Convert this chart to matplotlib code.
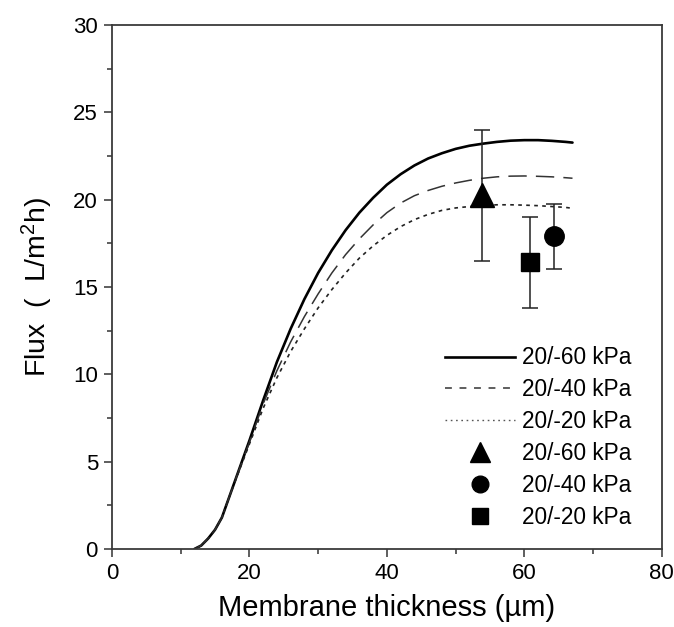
import matplotlib
matplotlib.use("Agg")
import matplotlib.pyplot as plt
from matplotlib.lines import Line2D

plt.rcParams['font.family'] = ['Liberation Sans', 'DejaVu Sans']
plt.rcParams['mathtext.fontset'] = 'custom'
plt.rcParams['mathtext.rm'] = 'Liberation Sans'
plt.rcParams['mathtext.it'] = 'Liberation Sans'

# ---- data ----
thickness = [12, 13, 14, 15, 16, 17, 18, 20, 22, 24, 26, 28, 30, 32, 34, 36, 38,
             40, 42, 44, 46, 48, 50, 52, 54, 56, 58, 60, 62, 64, 66, 67]
flux_60 = [0, 0.2, 0.6, 1.1, 1.8, 2.9, 4.0, 6.2, 8.5, 10.7, 12.6, 14.3, 15.8, 17.1,
           18.25, 19.25, 20.1, 20.85, 21.45, 21.95, 22.35, 22.65, 22.9, 23.08, 23.2,
           23.3, 23.37, 23.4, 23.4, 23.36, 23.3, 23.26]
flux_40 = [0, 0.2, 0.6, 1.1, 1.8, 2.9, 4.0, 6.1, 8.3, 10.2, 11.85, 13.3, 14.6, 15.8,
           16.85, 17.75, 18.55, 19.25, 19.8, 20.22, 20.52, 20.76, 20.95, 21.1, 21.22,
           21.3, 21.34, 21.35, 21.33, 21.3, 21.25, 21.22]
flux_20 = [0, 0.2, 0.6, 1.1, 1.8, 2.9, 3.95, 6.0, 8.05, 9.8, 11.3, 12.6, 13.8, 14.85,
           15.8, 16.65, 17.35, 17.95, 18.45, 18.85, 19.15, 19.38, 19.52, 19.6, 19.66,
           19.7, 19.7, 19.68, 19.65, 19.6, 19.55, 19.5]

exp_x = [53.9, 64.3, 60.85]          # triangle (60), circle (40), square (20)
exp_y = [20.25, 17.9, 16.4]
exp_err = [3.75, 1.85, 2.6]
labels = ['20/-60 kPa', '20/-40 kPa', '20/-20 kPa']

fig = plt.figure(figsize=(6.74, 6.27), dpi=100)
ax = fig.add_axes([0.166, 0.1244, 0.816, 0.836])

ax.plot(thickness, flux_60, color='black', lw=1.9, solid_capstyle='round')
ax.plot(thickness, flux_40, color='#333333', lw=1.1, dashes=(12, 6))
ax.plot(thickness, flux_20, color='#222222', lw=1.2, dashes=(2.2, 2.6))

markers = ['^', 'o', 's']
msizes = [17, 14, 13.5]
for xv, yv, ev, m, ms in zip(exp_x, exp_y, exp_err, markers, msizes):
    ax.errorbar([xv], [yv], yerr=[ev], fmt='none', ecolor='#222222',
                elinewidth=1.1, capsize=5.5, capthick=1.1, zorder=3)
    ax.plot([xv], [yv], marker=m, markersize=ms, color='black',
            linestyle='none', zorder=4)

ax.set_xlim(0, 80)
ax.set_ylim(0, 30)
ax.set_xticks([0, 20, 40, 60, 80])
ax.set_xticks([10, 30, 50, 70], minor=True)
ax.set_yticks([0, 5, 10, 15, 20, 25, 30])
ax.set_yticks([2.5, 7.5, 12.5, 17.5, 22.5, 27.5], minor=True)
ax.tick_params(which='major', direction='out', length=6, width=1.1,
               labelsize=16, pad=4, color='#333333')
ax.tick_params(which='minor', direction='out', length=3.8, width=1.1,
               color='#333333')
ax.tick_params(top=False, right=False, which='both')
for s in ax.spines.values():
    s.set_linewidth(1.3)
    s.set_color('#3a3a3a')

ax.set_xlabel('Membrane thickness (µm)', fontsize=21, labelpad=7)
ax.set_ylabel('Flux  (  L/m$^2$h)', fontsize=20.5)
ax.yaxis.set_label_coords(-0.104, 0.5)

handles = [
    Line2D([], [], color='black', lw=1.9),
    Line2D([], [], color='#333333', lw=1.1, dashes=(4.5, 5)),
    Line2D([], [], color='#555555', lw=1.0, dashes=(1.2, 2.6)),
    Line2D([], [], marker='^', markersize=14, color='black', linestyle='none'),
    Line2D([], [], marker='o', markersize=12, color='black', linestyle='none'),
    Line2D([], [], marker='s', markersize=11, color='black', linestyle='none'),
]
ax.legend(handles, labels + labels, loc='lower right',
          bbox_to_anchor=(0.981, 0.0), frameon=False, fontsize=16.3,
          handlelength=3.1, handletextpad=0.3, labelspacing=0.39)

fig.savefig('out.png', dpi=100)
